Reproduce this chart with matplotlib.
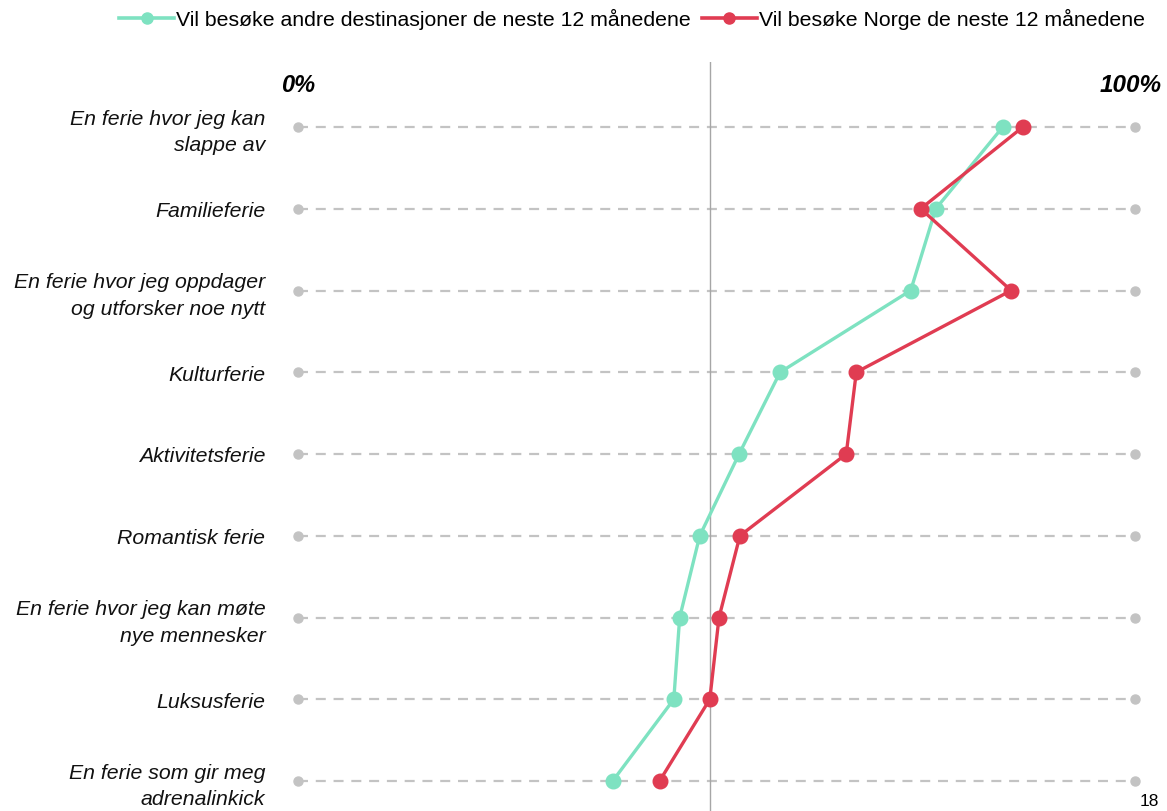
import matplotlib
matplotlib.use("Agg")
import matplotlib.pyplot as plt
from matplotlib.lines import Line2D

plt.rcParams['font.family'] = ['Liberation Sans', 'DejaVu Sans']

categories = [
    "En ferie hvor jeg kan\nslappe av",
    "Familieferie",
    "En ferie hvor jeg oppdager\nog utforsker noe nytt",
    "Kulturferie",
    "Aktivitetsferie",
    "Romantisk ferie",
    "En ferie hvor jeg kan møte\nnye mennesker",
    "Luksusferie",
    "En ferie som gir meg\nadrenalinkick",
]
other_dest = [84.2, 76.2, 73.2, 57.6, 52.7, 48.0, 45.6, 44.9, 37.6]
norway = [86.6, 74.4, 85.2, 66.7, 65.5, 52.8, 50.3, 49.2, 43.2]
series_names = ["Vil besøke andre destinasjoner de neste 12 månedene",
                "Vil besøke Norge de neste 12 månedene"]
ref_line = 49.2
page_number = "18"

teal = "#7ee2c1"
red = "#e03c52"
grey = "#c3c3c3"

W, H = 1167, 811
fig = plt.figure(figsize=(W / 100, H / 100), dpi=100)
x0, x1 = 298, 1135
ytop, ybot = 62, 811
ax = fig.add_axes([x0 / W, 1 - ybot / H, (x1 - x0) / W, (ybot - ytop) / H])
ax.set_xlim(0, 100)
row0, step = 127, 81.75
ax.set_ylim((ybot - row0) / step, (ytop - row0) / step)
ax.axis("off")

ys = list(range(len(categories)))
for y in ys:
    ax.plot([0, 100], [y, y], color=grey, lw=1.6, ls=(0, (4.5, 3.5)), zorder=1,
            clip_on=False)
    ax.plot([0, 100], [y, y], ls="none", marker="o", ms=6.5, color=grey, zorder=2,
            clip_on=False)

ax.axvline(ref_line, color="#a6a6a6", lw=1.0, zorder=1.5)

ax.plot(other_dest, ys, color=teal, lw=2.4, marker="o", ms=10.5, zorder=3, clip_on=False)
ax.plot(norway, ys, color=red, lw=2.4, marker="o", ms=10.5, zorder=4, clip_on=False)

for y, lab in zip(ys, categories):
    ax.text(-3.9, y + (0.07 if "\n" in lab else 0.035), lab, ha="right", va="center",
            fontsize=15.3, style="italic", color="#111111", linespacing=1.5)

fig.text(x0 / W, 1 - 85 / H, "0%", ha="center", va="center", fontsize=17,
         style="italic", weight="bold")
fig.text(1162 / W, 1 - 85 / H, "100%", ha="right", va="center", fontsize=17.5,
         style="italic", weight="bold")
fig.text(1149 / W, 1 - 801 / H, page_number, ha="center", va="center", fontsize=12.5)

handles = [Line2D([0], [0], color=teal, lw=2.6, marker="o", ms=8),
           Line2D([0], [0], color=red, lw=2.6, marker="o", ms=8)]
fig.legend(handles, series_names, loc="center", bbox_to_anchor=(632 / W, 1 - 19 / H),
           ncol=2, frameon=False, fontsize=15.3, handlelength=2.6, handletextpad=0.1,
           columnspacing=0.5)

fig.savefig("out.png", dpi=100)
